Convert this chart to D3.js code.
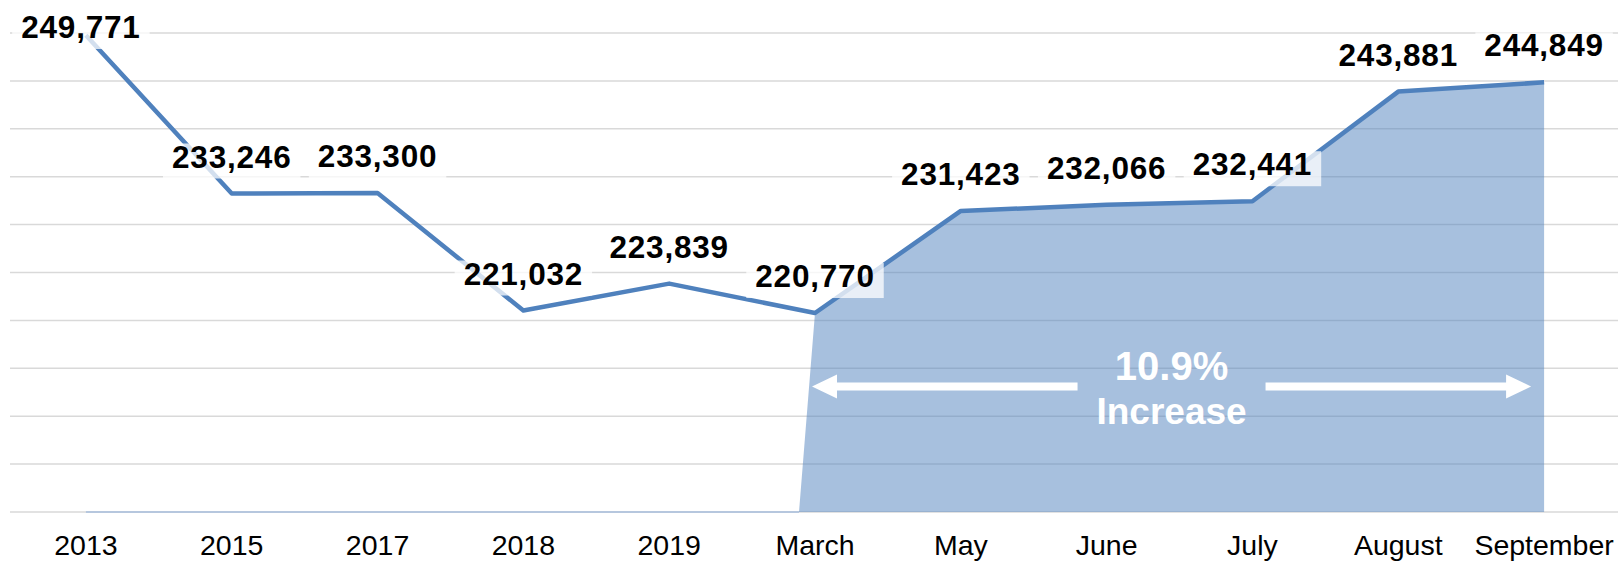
<!DOCTYPE html>
<html>
<head>
<meta charset="utf-8">
<script src="https://cdn.jsdelivr.net/npm/d3@7"></script>
<style>
  html, body { margin: 0; padding: 0; background: #fff; }
  svg { display: block; font-family: "Liberation Sans", Arial, sans-serif; }
</style>
</head>
<body>
<svg id="chart" width="1618" height="561"></svg>
<script>
const categories = ["2013", "2015", "2017", "2018", "2019", "March", "May", "June", "July", "August", "September"];
const values = [249771, 233246, 233300, 221032, 223839, 220770, 231423, 232066, 232441, 243881, 244849];
const areaStart = "March";
const annotationLines = ["10.9%", "Increase"];

const svg = d3.select("#chart");
const width = 1618;

const x = d3.scalePoint()
  .domain(categories)
  .range([13, 1617])
  .padding(0.5);

const y = d3.scaleLinear()
  .domain([200000, 250000])
  .range([512, 33]);

const data = categories.map((c, i) => ({ cat: c, value: values[i] }));
const y0 = y(200000);

// gridlines
svg.append("g")
  .selectAll("line")
  .data(y.ticks(10))
  .enter()
  .append("line")
  .attr("x1", 10)
  .attr("x2", width)
  .attr("y1", d => y(d))
  .attr("y2", d => y(d))
  .attr("stroke", "#d9d9d9")
  .attr("stroke-width", 1.5);

// shaded area from March onward
const startIdx = categories.indexOf(areaStart);
const areaData = data.slice(startIdx);
const areaPts = [{ px: x(areaStart) - 16, py: y0 }]
  .concat(areaData.map(d => ({ px: x(d.cat), py: y(d.value) })))
  .concat([{ px: x(categories[categories.length - 1]), py: y0 }]);

svg.append("path")
  .attr("d", d3.line().x(d => d.px).y(d => d.py)(areaPts) + "Z")
  .attr("fill", "#4f81bd")
  .attr("fill-opacity", 0.5);

// zero part of the area series along the baseline
svg.append("line")
  .attr("x1", x(categories[0]))
  .attr("x2", x(areaStart) - 16)
  .attr("y1", y0)
  .attr("y2", y0)
  .attr("stroke", "#a7bedd")
  .attr("stroke-width", 1.5);

// main line
svg.append("path")
  .datum(data)
  .attr("d", d3.line().x(d => x(d.cat)).y(d => y(d.value)))
  .attr("fill", "none")
  .attr("stroke", "#4f81bd")
  .attr("stroke-width", 4.5)
  .attr("stroke-linejoin", "round");

// data labels with semi-transparent boxes
const fmt = d3.format(",");
const labels = svg.append("g")
  .selectAll("g")
  .data(data)
  .enter()
  .append("g")
  .attr("transform", (d, i) => `translate(${x(d.cat) - (i === 0 ? 5 : 0)},${Math.max(y(d.value) - 26, 38)})`);

labels.append("rect")
  .attr("class", "box")
  .attr("fill", "#fff")
  .attr("fill-opacity", 0.75);

labels.append("text")
  .attr("text-anchor", "middle")
  .attr("font-size", 31.5)
  .attr("font-weight", "bold")
  .attr("letter-spacing", 0.8)
  .attr("fill", "#000")
  .text(d => fmt(d.value));

labels.each(function() {
  const g = d3.select(this);
  const w = g.select("text").node().getComputedTextLength();
  g.select("rect")
    .attr("x", -w / 2 - 9)
    .attr("width", w + 18)
    .attr("y", -24)
    .attr("height", 35);
});

// x axis labels
svg.append("g")
  .selectAll("text")
  .data(categories)
  .enter()
  .append("text")
  .attr("x", d => x(d))
  .attr("y", 555)
  .attr("text-anchor", "middle")
  .attr("font-size", 28.5)
  .attr("fill", "#000")
  .text(d => d);

// annotation arrows
const arrowY = 386.5;
const leftTip = x(areaStart) - 3;
const rightTip = x(categories[categories.length - 1]) - 13;
const mid = (leftTip + rightTip) / 2;
const gap = 94;
const head = 25, half = 12, shaft = 4;

function arrow(tip, tail, dir) {
  const b = tip + dir * head;
  return `M${tail},${arrowY - shaft}L${b},${arrowY - shaft}L${b},${arrowY - half}L${tip},${arrowY}` +
    `L${b},${arrowY + half}L${b},${arrowY + shaft}L${tail},${arrowY + shaft}Z`;
}

svg.append("path").attr("d", arrow(leftTip, mid - gap, 1)).attr("fill", "#fff");
svg.append("path").attr("d", arrow(rightTip, mid + gap, -1)).attr("fill", "#fff");

svg.append("text")
  .attr("x", mid)
  .attr("y", 380)
  .attr("text-anchor", "middle")
  .attr("font-size", 40)
  .attr("font-weight", "bold")
  .attr("fill", "#fff")
  .text(annotationLines[0]);

svg.append("text")
  .attr("x", mid)
  .attr("y", 424)
  .attr("text-anchor", "middle")
  .attr("font-size", 37)
  .attr("font-weight", "bold")
  .attr("fill", "#fff")
  .text(annotationLines[1]);
</script>
</body>
</html>
